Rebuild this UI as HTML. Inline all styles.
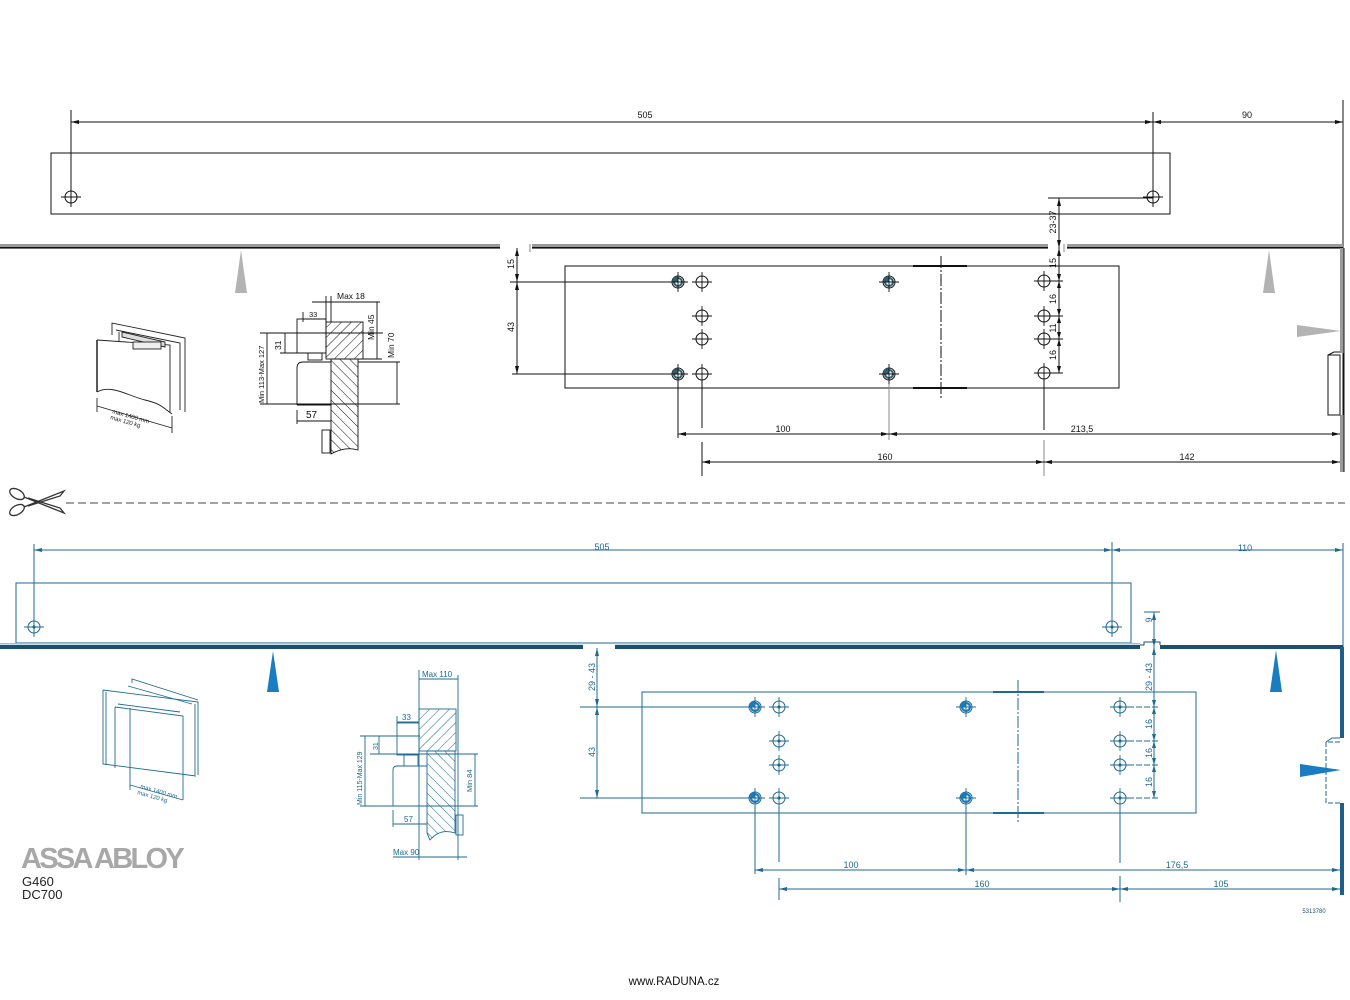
<!DOCTYPE html>
<html>
<head>
<meta charset="utf-8">
<style>
html,body{margin:0;padding:0;background:#fff;}
svg{display:block;}
text{font-family:"Liberation Sans",sans-serif;}
</style>
</head>
<body>
<svg width="1350" height="1000" viewBox="0 0 1350 1000" xmlns="http://www.w3.org/2000/svg">
<defs>
<pattern id="hk" patternUnits="userSpaceOnUse" width="7" height="7" patternTransform="rotate(45)">
<line x1="0" y1="0" x2="0" y2="7" stroke="#111" stroke-width="1"/>
</pattern>
<pattern id="hb" patternUnits="userSpaceOnUse" width="7" height="7" patternTransform="rotate(45)">
<line x1="0" y1="0" x2="0" y2="7" stroke="#1f6a90" stroke-width="1"/>
</pattern>
<pattern id="hk2" patternUnits="userSpaceOnUse" width="7" height="7" patternTransform="rotate(-45)">
<line x1="0" y1="0" x2="0" y2="7" stroke="#111" stroke-width="1"/>
</pattern>
<pattern id="hb2" patternUnits="userSpaceOnUse" width="7" height="7" patternTransform="rotate(-45)">
<line x1="0" y1="0" x2="0" y2="7" stroke="#1f6a90" stroke-width="1"/>
</pattern>
<g id="holeK">
<circle r="6" fill="none" stroke="#111" stroke-width="1"/>
<line x1="-10" y1="0" x2="10" y2="0" stroke="#111" stroke-width="0.9"/>
<line x1="0" y1="-10" x2="0" y2="10" stroke="#111" stroke-width="0.9"/>
</g>
<g id="holeKf">
<circle r="6" fill="#fff" stroke="#111" stroke-width="1"/>
<path d="M0,0 L-6,0 A6,6 0 0 1 0,-6 Z" fill="#2e5f74"/>
<circle r="4" fill="none" stroke="#2e5f74" stroke-width="2"/>
<line x1="-10" y1="0" x2="10" y2="0" stroke="#111" stroke-width="0.9"/>
<line x1="0" y1="-10" x2="0" y2="10" stroke="#111" stroke-width="0.9"/>
</g>
<g id="holeB">
<circle r="6" fill="none" stroke="#1f6a90" stroke-width="1"/>
<circle r="1.6" fill="#1f6a90"/>
<line x1="-10" y1="0" x2="10" y2="0" stroke="#1f6a90" stroke-width="0.9"/>
<line x1="0" y1="-10" x2="0" y2="10" stroke="#1f6a90" stroke-width="0.9"/>
</g>
<g id="holeBf">
<circle r="6" fill="#fff" stroke="#1f6a90" stroke-width="1"/>
<path d="M0,0 L-6,0 A6,6 0 0 1 0,-6 Z" fill="#1b7dc1"/>
<circle r="4" fill="none" stroke="#1b7dc1" stroke-width="2.2"/>
<line x1="-10" y1="0" x2="10" y2="0" stroke="#1f6a90" stroke-width="0.9"/>
<line x1="0" y1="-10" x2="0" y2="10" stroke="#1f6a90" stroke-width="0.9"/>
</g>
</defs>

<!-- ================= TOP (BLACK) ================= -->
<g stroke="#111" stroke-width="1" fill="none">
<line x1="71" y1="122" x2="1343" y2="122"/>
<line x1="71" y1="110" x2="71" y2="206"/>
<line x1="1153" y1="112" x2="1153" y2="206"/>
<line x1="1343" y1="100" x2="1343" y2="472"/>
<rect x="51" y="153" width="1119" height="61"/>
<line x1="1048" y1="198" x2="1153" y2="198"/>
<line x1="1059" y1="198" x2="1059" y2="373"/>
<line x1="1043" y1="281" x2="1063" y2="281"/>
<line x1="1043" y1="316" x2="1063" y2="316"/>
<line x1="1043" y1="339" x2="1063" y2="339"/>
<line x1="1043" y1="373" x2="1063" y2="373"/>
<rect x="565" y="266" width="554" height="122"/>
<line x1="941" y1="256" x2="941" y2="398" stroke-dasharray="12,2,2,2"/>
<line x1="913" y1="266" x2="967" y2="266" stroke-width="2"/>
<line x1="913" y1="388" x2="967" y2="388" stroke-width="2"/>
<line x1="517" y1="248" x2="517" y2="374"/>
<line x1="510" y1="282" x2="672" y2="282"/>
<line x1="512" y1="374" x2="672" y2="374"/>
<line x1="678" y1="380" x2="678" y2="438"/>
<line x1="702" y1="380" x2="702" y2="428"/>
<line x1="702" y1="442" x2="702" y2="476"/>
<line x1="889" y1="380" x2="889" y2="440" stroke="#888"/>
<line x1="1044" y1="380" x2="1044" y2="430"/>
<line x1="1044" y1="440" x2="1044" y2="476" stroke="#888"/>
<line x1="678" y1="434" x2="1340" y2="434"/>
<line x1="702" y1="462" x2="1340" y2="462"/>
</g>
<g fill="#111">
<path d="M71,122 l8,-2 v4z"/><path d="M1153,122 l-8,-2 v4z"/><path d="M1153,122 l8,-2 v4z"/><path d="M1343,122 l-8,-2 v4z"/>
<path d="M1059,198 l-2,8 h4z"/><path d="M1059,248 l-2,-8 h4z"/><path d="M1059,248 l-2,8 h4z"/>
<path d="M1059,281 l-2,-7 h4z"/><path d="M1059,281 l-2,7 h4z"/><path d="M1059,316 l-2,-7 h4z"/><path d="M1059,316 l-2,7 h4z"/>
<path d="M1059,339 l-2,-7 h4z"/><path d="M1059,339 l-2,7 h4z"/><path d="M1059,373 l-2,-7 h4z"/>
<path d="M517,248 l-2,8 h4z"/><path d="M517,282 l-2,-8 h4z"/><path d="M517,282 l-2,8 h4z"/><path d="M517,374 l-2,-8 h4z"/>
<path d="M678,434 l8,-2 v4z"/><path d="M889,434 l-8,-2 v4z"/><path d="M889,434 l8,-2 v4z"/><path d="M1340,434 l-8,-2 v4z"/>
<path d="M702,462 l8,-2 v4z"/><path d="M1044,462 l-8,-2 v4z"/><path d="M1044,462 l8,-2 v4z"/><path d="M1340,462 l-8,-2 v4z"/>
</g>
<g>
<rect x="0" y="244" width="500" height="3" fill="#9a9a9a"/>
<rect x="0" y="247" width="500" height="1.6" fill="#111"/>
<rect x="532" y="244" width="516" height="3" fill="#9a9a9a"/>
<rect x="532" y="247" width="516" height="1.6" fill="#111"/>
<rect x="1067" y="244" width="276" height="3" fill="#9a9a9a"/>
<rect x="1067" y="247" width="276" height="1.6" fill="#111"/>
<line x1="1064" y1="244" x2="1064" y2="252" stroke="#888"/>
<line x1="530" y1="244" x2="530" y2="252" stroke="#888"/>
<rect x="1340" y="248" width="4" height="105" fill="#9a9a9a"/>
<rect x="1340" y="415" width="4" height="57" fill="#9a9a9a"/>
<line x1="1344" y1="248" x2="1344" y2="472" stroke="#111"/>
<rect x="1328" y="355" width="12" height="60" fill="none" stroke="#111"/>
<path d="M1328,355 l6,-3 h6" fill="none" stroke="#111"/>
</g>
<g fill="#b3b3b3">
<path d="M241,250 L235,293 L247,293Z"/>
<path d="M1269,250 L1263,293 L1275,293Z"/>
<path d="M1341,331 L1297,325 L1297,337Z"/>
</g>
<use href="#holeK" x="71" y="197"/>
<use href="#holeK" x="1153" y="197"/>
<use href="#holeKf" x="678" y="282"/>
<use href="#holeK" x="702" y="282"/>
<use href="#holeK" x="702" y="316"/>
<use href="#holeK" x="702" y="339"/>
<use href="#holeKf" x="678" y="374"/>
<use href="#holeK" x="702" y="374"/>
<use href="#holeKf" x="889" y="282"/>
<use href="#holeKf" x="889" y="374"/>
<use href="#holeK" x="1044" y="281"/>
<use href="#holeK" x="1044" y="316"/>
<use href="#holeK" x="1044" y="339"/>
<use href="#holeK" x="1044" y="373"/>
<g font-size="9" fill="#111" text-anchor="middle">
<text x="645" y="118">505</text>
<text x="1247" y="118">90</text>
<text x="783" y="432">100</text>
<text x="1082" y="432">213,5</text>
<text x="885" y="460">160</text>
<text x="1187" y="460">142</text>
<text transform="translate(514,264) rotate(-90)">15</text>
<text transform="translate(514,327) rotate(-90)">43</text>
<text transform="translate(1056,222) rotate(-90)">23-37</text>
<text transform="translate(1056,263) rotate(-90)">15</text>
<text transform="translate(1056,299) rotate(-90)">16</text>
<text transform="translate(1056,328) rotate(-90)">11</text>
<text transform="translate(1056,355) rotate(-90)">16</text>
</g>

<g stroke="#222" stroke-width="0.9" fill="none">
<path d="M112,335 L112,323 L185,338 L185,412"/>
<path d="M116,330 L180,343 L180,410"/>
<path d="M97,340 L170,345 L170,413"/>
<path d="M97,340 L97,392" stroke-width="1.5"/>
<path d="M97,392 C112,384 128,396 145,400 S163,408 172,414"/>
<path d="M122,332 L165,342 L165,347 L122,337Z" fill="#ddd"/>
<rect x="133" y="342" width="28" height="7" fill="#eee"/>
<line x1="119" y1="332" x2="119" y2="341"/>
<line x1="97" y1="398" x2="97" y2="412"/>
<line x1="172" y1="416" x2="172" y2="433"/>
<line x1="97" y1="406" x2="172" y2="428"/>
</g>
<g font-size="6" fill="#222">
<text transform="translate(112,413) rotate(16)">max 1400 mm</text>
<text transform="translate(110,419) rotate(16)">max 120 kg</text>
</g>

<g stroke="#111" stroke-width="0.9" fill="none">
<rect x="326" y="322" width="37" height="37" fill="url(#hk)"/>
<path d="M331,359 L358,359 L358,450 Q345,446 331,454 Z" fill="url(#hk2)"/>
<path d="M297,405 L297,368 Q297,362 303,362 L331,362"/>
<line x1="297" y1="405" x2="331" y2="405"/>
<rect x="308" y="353" width="14" height="7"/>
<rect x="297" y="319" width="29" height="34"/>
<rect x="322" y="430" width="8" height="23"/>
<line x1="312" y1="302" x2="368" y2="302"/>
<line x1="326" y1="296" x2="326" y2="322"/>
<line x1="331" y1="296" x2="331" y2="322"/>
<line x1="303" y1="319" x2="326" y2="319"/>
<line x1="303" y1="312" x2="303" y2="322"/>
<line x1="260" y1="333" x2="383" y2="333"/>
<line x1="285" y1="333" x2="285" y2="353"/>
<line x1="280" y1="353" x2="308" y2="353"/>
<line x1="267" y1="333" x2="267" y2="404"/>
<line x1="260" y1="404" x2="400" y2="404"/>
<line x1="363" y1="302" x2="380" y2="302"/>
<line x1="377" y1="302" x2="377" y2="359"/>
<line x1="358" y1="359" x2="382" y2="359"/>
<line x1="358" y1="362" x2="400" y2="362"/>
<line x1="397" y1="362" x2="397" y2="404"/>
<line x1="297" y1="410" x2="297" y2="424"/>
<line x1="297" y1="421" x2="331" y2="421"/>
</g>
<g font-size="8.5" fill="#111">
<text x="337" y="299">Max 18</text>
<text x="309" y="317" font-size="7.5">33</text>
<text x="306" y="418" font-size="10">57</text>
<text transform="translate(281,350) rotate(-90)">31</text>
<text transform="translate(264,403) rotate(-90)" font-size="7.5">Min 113-Max 127</text>
<text transform="translate(374,340) rotate(-90)">Min 45</text>
<text transform="translate(394,358) rotate(-90)">Min 70</text>
</g>

<g stroke="#333" stroke-width="1.3" fill="none">
<ellipse cx="17" cy="494" rx="8" ry="4.5" transform="rotate(30 17 494)"/>
<ellipse cx="17" cy="510" rx="8" ry="4.5" transform="rotate(-30 17 510)"/>
<path d="M24,497 L64,513 L60,508 L28,498"/>
<path d="M24,507 L64,491 L60,496 L28,506"/>
</g>
<line x1="66" y1="503" x2="1345" y2="503" stroke="#444" stroke-width="1" stroke-dasharray="8,4"/>

<!-- ================= BOTTOM (BLUE) ================= -->
<g stroke="#1f6a90" stroke-width="1" fill="none">
<line x1="34" y1="550" x2="1343" y2="550"/>
<line x1="34" y1="544" x2="34" y2="636"/>
<line x1="1112" y1="542" x2="1112" y2="636"/>
<line x1="1343" y1="543" x2="1343" y2="648"/>
<rect x="16" y="583" width="1115" height="60"/>
<line x1="1154" y1="612" x2="1154" y2="798"/>
<line x1="1144" y1="612" x2="1160" y2="612"/>
<line x1="1120" y1="707" x2="1158" y2="707" stroke-dasharray="6,2"/>
<line x1="1120" y1="741" x2="1158" y2="741" stroke-dasharray="6,2"/>
<line x1="1120" y1="765" x2="1158" y2="765" stroke-dasharray="6,2"/>
<line x1="1120" y1="798" x2="1158" y2="798" stroke-dasharray="6,2"/>
<rect x="642" y="692" width="554" height="121"/>
<line x1="1018" y1="680" x2="1018" y2="822" stroke-dasharray="12,2,2,2"/>
<line x1="993" y1="692" x2="1044" y2="692" stroke-width="2"/>
<line x1="993" y1="813" x2="1044" y2="813" stroke-width="2"/>
<line x1="597" y1="648" x2="597" y2="798"/>
<line x1="580" y1="707" x2="748" y2="707"/>
<line x1="580" y1="798" x2="748" y2="798"/>
<line x1="755" y1="806" x2="755" y2="874"/>
<line x1="779" y1="806" x2="779" y2="862"/>
<line x1="779" y1="878" x2="779" y2="900"/>
<line x1="966" y1="806" x2="966" y2="875"/>
<line x1="1120" y1="806" x2="1120" y2="863"/>
<line x1="1120" y1="876" x2="1120" y2="902"/>
<line x1="755" y1="870" x2="1340" y2="870"/>
<line x1="779" y1="889" x2="1340" y2="889"/>
</g>
<g fill="#1f6a90">
<path d="M34,550 l8,-2 v4z"/><path d="M1112,550 l-8,-2 v4z"/><path d="M1112,550 l8,-2 v4z"/><path d="M1343,550 l-8,-2 v4z"/>
<path d="M1154,612 l-2,8 h4z"/><path d="M1154,647 l-2,-8 h4z"/><path d="M1154,647 l-2,8 h4z"/>
<path d="M1154,707 l-2,-7 h4z"/><path d="M1154,707 l-2,7 h4z"/><path d="M1154,741 l-2,-7 h4z"/><path d="M1154,741 l-2,7 h4z"/>
<path d="M1154,765 l-2,-7 h4z"/><path d="M1154,765 l-2,7 h4z"/><path d="M1154,798 l-2,-7 h4z"/>
<path d="M597,648 l-2,8 h4z"/><path d="M597,707 l-2,-8 h4z"/><path d="M597,707 l-2,8 h4z"/><path d="M597,798 l-2,-8 h4z"/>
<path d="M755,870 l8,-2 v4z"/><path d="M966,870 l-8,-2 v4z"/><path d="M966,870 l8,-2 v4z"/><path d="M1340,870 l-8,-2 v4z"/>
<path d="M779,889 l8,-2 v4z"/><path d="M1120,889 l-8,-2 v4z"/><path d="M1120,889 l8,-2 v4z"/><path d="M1340,889 l-8,-2 v4z"/>
</g>
<g>
<rect x="0" y="643" width="583" height="1.5" fill="#8cc3df"/>
<rect x="0" y="645" width="583" height="4" fill="#1e4f6e"/>
<rect x="615" y="643" width="525" height="1.5" fill="#8cc3df"/>
<rect x="615" y="645" width="525" height="4" fill="#1e4f6e"/>
<rect x="1160" y="645" width="183" height="4" fill="#1e4f6e"/>
<path d="M1140,645 h4 v-3 h16 v3" fill="none" stroke="#1e4f6e"/>
<rect x="1340" y="647" width="4" height="91" fill="#1e5f8a"/>
<rect x="1340" y="803" width="4" height="92" fill="#1e5f8a"/>
<path d="M1340,742 h-14 v61 h14" fill="none" stroke="#1f6a90" stroke-dasharray="5,2"/>
<path d="M1326,742 l6,-4 h8" fill="none" stroke="#1f6a90"/>
</g>
<g fill="#1b7dc1">
<path d="M273,651 L267,692 L279,692Z"/>
<path d="M1276,650 L1270,692 L1282,692Z"/>
<path d="M1341,770 L1300,764 L1300,777Z"/>
</g>
<use href="#holeB" x="34" y="627"/>
<use href="#holeB" x="1112" y="627"/>
<use href="#holeBf" x="755" y="707"/>
<use href="#holeB" x="779" y="707"/>
<use href="#holeB" x="779" y="741"/>
<use href="#holeB" x="779" y="765"/>
<use href="#holeBf" x="755" y="798"/>
<use href="#holeB" x="779" y="798"/>
<use href="#holeBf" x="966" y="707"/>
<use href="#holeBf" x="966" y="798"/>
<use href="#holeB" x="1120" y="707"/>
<use href="#holeB" x="1120" y="741"/>
<use href="#holeB" x="1120" y="765"/>
<use href="#holeB" x="1120" y="798"/>
<g font-size="9" fill="#1f6a90" text-anchor="middle">
<text x="602" y="550">505</text>
<text x="1245" y="551">110</text>
<text x="851" y="868">100</text>
<text x="1177" y="868">176,5</text>
<text x="982" y="887">160</text>
<text x="1221" y="887">105</text>
<text transform="translate(595,677) rotate(-90)">29 - 43</text>
<text transform="translate(595,752) rotate(-90)">43</text>
<text transform="translate(1152,620) rotate(-90)">9</text>
<text transform="translate(1152,677) rotate(-90)">29 - 43</text>
<text transform="translate(1152,724) rotate(-90)">16</text>
<text transform="translate(1152,753) rotate(-90)">16</text>
<text transform="translate(1152,782) rotate(-90)">16</text>
</g>
<text x="1314" y="913" font-size="6" fill="#1f4f6e" text-anchor="middle">5313780</text>

<g stroke="#1f6a90" stroke-width="0.9" fill="none">
<path d="M132,683 L132,679 L198,700"/>
<path d="M128,686 L192,704"/>
<path d="M103,690 L198,702 L198,775"/>
<path d="M103,690 L103,764 L196,776"/>
<path d="M106,692 L106,765"/>
<path d="M195,704 L195,775"/>
<path d="M115,707 L183,716 L183,800"/>
<path d="M115,707 L115,768"/>
<path d="M118,704 L180,712"/>
<line x1="130" y1="708" x2="130" y2="790"/>
<line x1="130" y1="785" x2="183" y2="800"/>
</g>
<g font-size="6" fill="#1f6a90">
<text transform="translate(140,788) rotate(16)">max 1400 mm</text>
<text transform="translate(137,794) rotate(16)">max 120 kg</text>
</g>

<g stroke="#1f6a90" stroke-width="0.9" fill="none">
<rect x="419" y="709" width="37" height="42" fill="url(#hb)"/>
<path d="M427,751 L455,751 L455,833 Q440,828 430,840 L427,833 Z" fill="url(#hb2)"/>
<path d="M393,806 L393,770 Q393,766 397,766 L427,766"/>
<line x1="393" y1="806" x2="427" y2="806"/>
<rect x="404" y="755" width="14" height="11"/>
<rect x="397" y="723" width="22" height="32"/>
<rect x="456" y="815" width="7" height="20"/>
<line x1="419" y1="670" x2="419" y2="860"/>
<line x1="458" y1="675" x2="458" y2="860"/>
<line x1="419" y1="679" x2="458" y2="679"/>
<line x1="397" y1="722" x2="419" y2="722"/>
<line x1="397" y1="716" x2="397" y2="725"/>
<line x1="360" y1="736" x2="420" y2="736"/>
<line x1="379" y1="736" x2="379" y2="754"/>
<line x1="370" y1="754" x2="478" y2="754"/>
<line x1="365" y1="736" x2="365" y2="806"/>
<line x1="360" y1="806" x2="478" y2="806"/>
<line x1="475" y1="754" x2="475" y2="806"/>
<line x1="393" y1="810" x2="393" y2="827"/>
<line x1="393" y1="824" x2="427" y2="824"/>
<line x1="393" y1="857" x2="467" y2="857"/>
</g>
<g font-size="8" fill="#1f6a90">
<text x="422" y="677">Max 110</text>
<text x="402" y="720">33</text>
<text x="404" y="822">57</text>
<text x="393" y="855">Max 90</text>
<text transform="translate(378,750) rotate(-90)" font-size="7">31</text>
<text transform="translate(362,805) rotate(-90)" font-size="7">Min 115-Max 129</text>
<text transform="translate(472,792) rotate(-90)" font-size="7.5">Min 84</text>
</g>

<text x="21" y="868" font-size="29" font-weight="bold" fill="#a8a8a8" letter-spacing="-2.7">ASSA ABLOY</text>
<text x="22" y="886" font-size="13" fill="#222">G460</text>
<text x="22" y="899" font-size="13" fill="#222">DC700</text>

<text x="674" y="985" font-size="11.5" fill="#111" text-anchor="middle">www.RADUNA.cz</text>
</svg>
</body>
</html>
